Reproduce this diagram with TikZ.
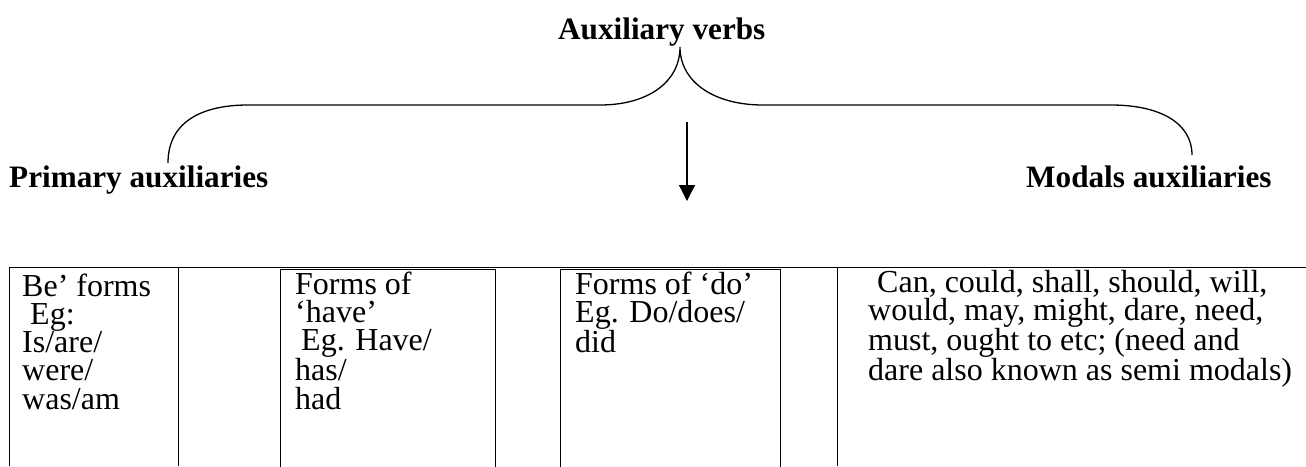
\documentclass[tikz,border=0pt]{standalone}
\usepackage{fontspec}
\setmainfont{Liberation Serif}
\usetikzlibrary{arrows.meta,positioning}

\begin{document}
\begin{tikzpicture}[x=1pt, y=-1pt, >={Triangle[length=16pt,width=16pt]},
    heading/.style={font=\fontsize{31.2}{36}\selectfont\bfseries, inner sep=0pt, anchor=base west},
    cell/.style={font=\fontsize{32}{28.3}\selectfont, align=left, inner sep=0pt, anchor=base west},
    brace/.style={line width=1.3pt},
    rule/.style={line width=1pt}]
\useasboundingbox (0,0) rectangle (1306,466);
\coordinate (braceL) at (168,163);
\coordinate (braceTop) at (680,47);
\coordinate (braceR) at (1192,155);
\coordinate (arrTop) at (687,122);
\coordinate (arrTip) at (687,201);
\coordinate (0) at (9,267);
\coordinate (1) at (1306,267);
\coordinate (2) at (9,466);
\coordinate (3) at (178,267);
\coordinate (4) at (178,466);
\coordinate (5) at (837,267);
\coordinate (6) at (837,466);
\coordinate (7) at (280,269);
\coordinate (8) at (495,470);
\coordinate (9) at (560,269);
\coordinate (10) at (780,470);
\draw [brace] (braceL) .. controls (168,121) and (203,105) .. (248,105) -- (600,105)
    .. controls (648,105) and (680,82) .. (braceTop)
    .. controls (680,82) and (714,105) .. (763,105) -- (1111,105)
    .. controls (1160,105) and (1192,123) .. (braceR);
\draw [brace, ->] (arrTop) -- (arrTip);
\draw [rule] (0) -- (1);
\draw [rule] (0) -- (2);
\draw [rule] (3) -- (4);
\draw [rule] (5) -- (6);
\draw [rule] (7) rectangle (8);
\draw [rule] (9) rectangle (10);
\node [heading] (auxverbs) at (558,39) {Auxiliary verbs};
\node [heading] (primary) at (9,187) {Primary auxiliaries};
\node [heading] (modals) at (1026,187) {Modals auxiliaries};
\node [cell] (beforms) at (22,409.2) {Be’ forms\\\hspace*{8pt}Eg:\\Is/are/\\were/\\was/am};
\node [cell] (haveforms) at (295,409.2) {Forms of\\‘have’\\\hspace*{6pt}Eg. Have/\\has/\\had};
\node [cell] (doforms) at (575,352.6) {Forms of ‘do’\\Eg. Do/does/\\did};
\node [cell] (modallist) at (868,380.9) {\hspace*{9pt}Can, could, shall, should, will,\\would, may, might, dare, need,\\must, ought to etc; (need and\\dare also known as semi modals)};
\end{tikzpicture}
\end{document}
